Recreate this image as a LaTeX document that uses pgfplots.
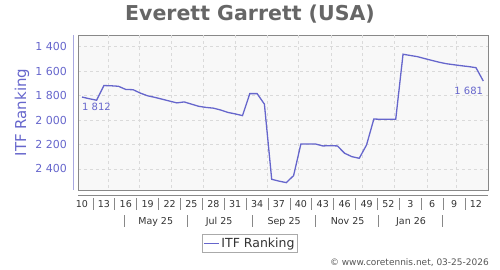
\documentclass[border=0pt]{standalone}
\usepackage{pgfplots}
\pgfplotsset{compat=1.18}
\usepackage{fontspec}
\setmainfont{DejaVu Sans}
\definecolor{serblue}{HTML}{6666CC}
\definecolor{axblue}{HTML}{A8A8E0}
\definecolor{titlegray}{HTML}{666666}
\definecolor{gridgray}{HTML}{DADADA}
\definecolor{framegray}{HTML}{888888}
\definecolor{ticktext}{HTML}{333333}
\definecolor{bggray}{HTML}{F8F8F8}
\definecolor{legframe}{HTML}{AAAAAA}
\definecolor{copygray}{HTML}{555555}

\begin{document}
\begin{tikzpicture}
\path[use as bounding box] (0pt,0pt) rectangle (500pt,270pt);
\node[font=\fontsize{20.5}{24}\selectfont\bfseries, text=titlegray, inner sep=0pt] at (250pt,256pt) {Everett Garrett (USA)};
\node[rotate=90, font=\fontsize{15}{18}\selectfont, text=serblue, inner sep=0pt] at (22pt,157.5pt) {ITF Ranking};
\draw[color=axblue, line width=0.8pt] (73pt,234.7pt) -- (73pt,79.7pt);
\draw[framegray, line width=0.8pt] (78pt,75pt) -- (488pt,75pt);
\node[anchor=base east, font=\fontsize{9}{10}\selectfont, text=copygray, inner sep=0pt] at (489pt,4pt) {© www.coretennis.net, 03-25-2026};
\begin{axis}[
  at={(78pt,79.7pt)}, anchor=south west, scale only axis,
  width=410pt, height=155pt,
  xmin=9.452, xmax=65.647, ymin=1307, ymax=2575, y dir=reverse,
  clip=false,
  axis background/.style={fill=bggray},
  axis line style={framegray, line width=0.8pt},
  major tick length=0pt, minor tick num=0,
  ytick={1400,1600,...,2400},
  yticklabel style={font=\fontsize{11}{13}\selectfont, text=serblue, anchor=east, inner sep=0pt, xshift=-11pt},
  /pgf/number format/.cd, 1000 sep={\hspace{0.32em}}, assume math mode=true, /pgfplots/.cd,
  xtick={10,13,16,19,22,25,28,31,34,37,40,43,46,49,52,55,58,61,64},
  xticklabels={10,13,16,19,22,25,28,31,34,37,40,43,46,49,52,3,6,9,12},
  xticklabel style={font=\fontsize{9.5}{11}\selectfont, text=ticktext, anchor=north, inner sep=0pt, yshift=-10pt},
  ymajorgrids,
  grid style={gridgray, dash pattern=on 3pt off 3pt, line width=0.6pt},
  extra x ticks={13.56,17.85,22.28,26.56,30.99,35.42,39.71,44.13,48.42,52.85,57.28,61.28},
  extra x tick labels={},
  extra x tick style={grid=major, major tick length=0pt},
  legend style={at={(axis description cs:0.3024,-0.282)}, anchor=north west, draw=legframe, fill=white, font=\fontsize{12.5}{14}\selectfont, text=ticktext, inner xsep=1pt, inner ysep=1.5pt},
  legend image code/.code={\path (-1pt,0pt) -- (14pt,0pt); \draw[#1] (0pt,0pt) -- (10pt,0pt);},
]
\addplot[serblue, line width=1.3pt] coordinates {
(10,1812) (11,1826) (12,1838) (13,1718) (14,1720) (15,1724) (16,1750) (17,1752)
(18,1780) (19,1802) (20,1815) (21,1830) (22,1845) (23,1860) (24,1852) (25,1870)
(26,1888) (27,1897) (28,1903) (29,1918) (30,1938) (31,1950) (32,1964) (33,1784)
(34,1784) (35,1870) (36,2485) (37,2500) (38,2512) (39,2455) (40,2196) (41,2196)
(42,2196) (43,2212) (44,2210) (45,2212) (46,2272) (47,2300) (48,2313) (49,2204)
(50,1992) (51,1994) (52,1994) (53,1994) (54,1462) (55,1472) (56,1482) (57,1498)
(58,1513) (59,1528) (60,1540) (61,1548) (62,1556) (63,1563) (64,1572) (65,1681)
};
\addlegendentry{ITF Ranking}
\node[anchor=north west, inner sep=0pt, yshift=-5.7pt, font=\fontsize{10}{12}\selectfont, text=serblue] at (axis cs:10,1812) {1\hspace{0.32em}812};
\node[anchor=north east, inner sep=0pt, yshift=-5.7pt, font=\fontsize{10}{12}\selectfont, text=serblue] at (axis cs:65,1681) {1\hspace{0.32em}681};
\pgfplotsinvokeforeach{11.5,14.5,17.5,20.5,23.5,26.5,29.5,32.5,35.5,38.5,41.5,44.5,47.5,50.5,53.5,56.5,59.5,62.5}{
  \draw[framegray, line width=0.7pt] (axis cs:#1,2575) ++(0pt,-7.7pt) -- ++(0pt,-12pt);
}
\pgfplotsinvokeforeach{15.75,24.38,33.29,42.05,50.68,59.45}{
  \draw[framegray, line width=0.7pt] (axis cs:#1,2575) ++(0pt,-24.7pt) -- ++(0pt,-12pt);
}
\node[anchor=base, inner sep=0pt, yshift=-33.7pt, font=\fontsize{9.5}{11}\selectfont, text=ticktext] at (axis cs:20.1,2575) {May 25};
\node[anchor=base, inner sep=0pt, yshift=-33.7pt, font=\fontsize{9.5}{11}\selectfont, text=ticktext] at (axis cs:28.8,2575) {Jul 25};
\node[anchor=base, inner sep=0pt, yshift=-33.7pt, font=\fontsize{9.5}{11}\selectfont, text=ticktext] at (axis cs:37.7,2575) {Sep 25};
\node[anchor=base, inner sep=0pt, yshift=-33.7pt, font=\fontsize{9.5}{11}\selectfont, text=ticktext] at (axis cs:46.4,2575) {Nov 25};
\node[anchor=base, inner sep=0pt, yshift=-33.7pt, font=\fontsize{9.5}{11}\selectfont, text=ticktext] at (axis cs:55.1,2575) {Jan 26};
\end{axis}
\end{tikzpicture}
\end{document}
